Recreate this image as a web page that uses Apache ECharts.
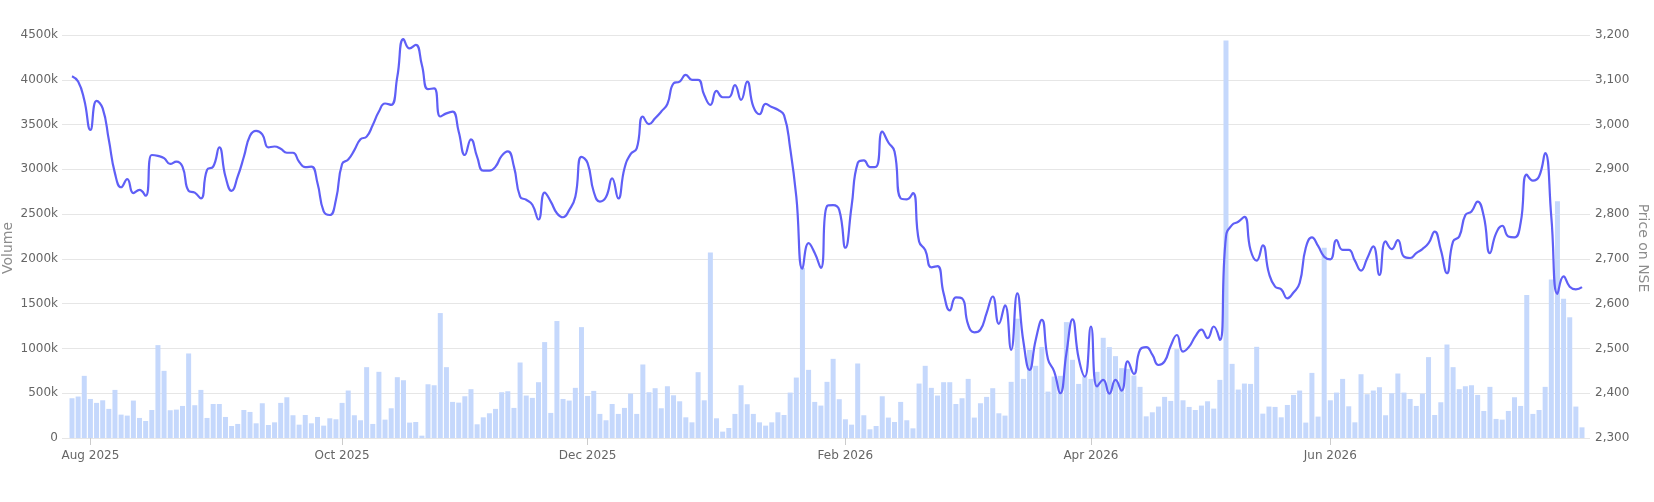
<!DOCTYPE html>
<html>
<head>
<meta charset="utf-8">
<script src="https://cdn.jsdelivr.net/npm/echarts@6/dist/echarts.min.js"></script>
<style>
  html, body { margin: 0; padding: 0; background: #ffffff; }
  #chart { width: 1654px; height: 502px; }
</style>
</head>
<body>
<div id="chart"></div>
<script>
// ---- data ----
const startDate = '2025-07-29';
const holidays = ['2025-08-15','2025-08-27','2025-10-02','2025-10-22','2025-11-05','2025-12-25',
  '2026-01-15','2026-01-26','2026-03-03','2026-03-26','2026-03-31','2026-04-03','2026-04-14',
  '2026-05-01','2026-05-28','2026-06-26'];
const specialSessions = ['2026-02-01'];
const monthNames = ['Jan','Feb','Mar','Apr','May','Jun','Jul','Aug','Sep','Oct','Nov','Dec'];

const volume = [
  444,463,694,436,392,421,325,537,261,250,418,224,190,313,1037,750,310,317,358,944,
  366,537,224,380,380,235,134,157,313,291,164,388,145,175,392,455,254,149,257,164,
  235,138,220,209,392,530,254,198,791,157,739,205,332,679,645,172,179,26,600,589,
  1395,791,403,395,466,545,153,231,276,325,511,522,336,843,474,448,623,1071,280,1306,
  436,418,560,1238,470,526,269,198,380,269,336,496,269,821,511,556,332,578,477,410,
  231,175,735,421,2071,220,71,112,269,589,377,269,175,138,175,287,257,507,675,1900,
  761,403,362,627,884,433,209,149,832,254,97,134,466,228,179,403,198,108,608,806,
  560,474,623,623,380,444,660,228,388,459,556,276,250,627,1332,660,985,806,1015,518,
  686,694,1294,873,604,686,660,739,1119,1015,914,780,772,698,571,242,287,351,459,414,
  992,421,347,313,362,410,328,649,4438,828,541,608,604,1018,272,351,347,231,369,481,
  530,172,727,239,2124,421,507,660,354,175,712,489,530,567,254,500,720,507,436,358,
  496,903,257,399,1044,791,545,578,589,481,302,571,213,205,302,455,358,1596,269,313,
  571,1771,2644,1554,1348,351,119
].map(v => v * 1000);

const price = [
  3108,3096,3055,2988,3053,3036,2966,2891,2860,2878,2847,2854,2841,2932,2930,2925,2912,2917,2906,2852,
  2848,2835,2899,2906,2949,2884,2852,2884,2928,2975,2986,2978,2949,2951,2946,2937,2937,2917,2905,2906,
  2869,2806,2798,2832,2912,2922,2943,2967,2973,2999,3029,3047,3044,3107,3191,3170,3178,3133,3079,3081,
  3018,3025,3029,2984,2932,2967,2928,2897,2897,2906,2930,2940,2906,2839,2832,2821,2788,2848,2828,2802,
  2793,2809,2839,2928,2914,2850,2828,2838,2880,2835,2902,2934,2947,3018,3001,3014,3029,3046,3092,3096,
  3111,3100,3100,3066,3044,3075,3061,3061,3088,3055,3096,3040,3023,3046,3039,3033,3021,2947,2839,2678,
  2735,2713,2680,2818,2820,2809,2725,2817,2914,2920,2905,2906,2984,2960,2940,2835,2833,2847,2739,2720,
  2681,2684,2623,2585,2614,2612,2553,2536,2542,2579,2616,2555,2596,2497,2623,2515,2452,2519,2564,2476,
  2449,2400,2489,2565,2478,2437,2549,2415,2430,2399,2430,2406,2471,2443,2497,2503,2486,2463,2471,2506,
  2530,2493,2504,2527,2542,2523,2549,2519,2750,2776,2783,2794,2720,2696,2730,2668,2638,2632,2612,2625,
  2646,2725,2748,2729,2705,2699,2742,2720,2720,2696,2674,2701,2728,2664,2739,2722,2742,2705,2702,2713,
  2722,2735,2761,2720,2668,2739,2750,2798,2806,2828,2795,2713,2757,2774,2750,2748,2780,2888,2875,2884,
  2936,2794,2622,2661,2638,2632,2637
];

// ---- trading-day categories ----
function buildDates(n) {
  const out = [];
  const d = new Date(startDate + 'T00:00:00Z');
  while (out.length < n) {
    const s = d.toISOString().slice(0, 10);
    const wd = d.getUTCDay();
    if ((wd !== 0 && wd !== 6 && holidays.indexOf(s) < 0) || specialSessions.indexOf(s) >= 0) out.push(s);
    d.setUTCDate(d.getUTCDate() + 1);
  }
  return out;
}
const dates = buildDates(volume.length);

// first trading day of every second month (Aug, Oct, Dec, Feb, Apr, Jun) gets a label
const labelIdx = {};
dates.forEach((s, i) => {
  const m = parseInt(s.slice(5, 7), 10) - 1;
  if (i > 0 && s.slice(5, 7) !== dates[i - 1].slice(5, 7) && m % 2 === 1) {
    labelIdx[i] = monthNames[m] + ' ' + s.slice(0, 4);
  }
});

const FONT = 'DejaVu Sans';
const gridTop = 35, gridBottom = 64;

const chart = echarts.init(document.getElementById('chart'), null, { renderer: 'canvas' });
chart.setOption({
  animation: false,
  backgroundColor: '#ffffff',
  textStyle: { fontFamily: FONT },
  grid: [
    { left: 62, right: 64, top: gridTop, bottom: gridBottom, containLabel: false, outerBoundsMode: 'none' },
    { left: 72, right: 72, top: gridTop, bottom: gridBottom, containLabel: false, outerBoundsMode: 'none' }
  ],
  xAxis: [
    { gridIndex: 0, type: 'category', data: dates, show: false },
    {
      gridIndex: 1, type: 'category', data: dates, boundaryGap: false,
      axisLine: { show: false },
      axisTick: { show: true, length: 7, lineStyle: { color: '#cccccc' },
        interval: (i) => labelIdx[i] !== undefined },
      axisLabel: { show: true, color: '#666666', fontSize: 12, fontFamily: FONT, margin: 12,
        interval: (i) => labelIdx[i] !== undefined,
        formatter: (v, i) => labelIdx[i] || '' },
      splitLine: { show: false }
    }
  ],
  yAxis: [
    {
      gridIndex: 0, type: 'value', position: 'left', min: 0, max: 4500000, interval: 500000,
      name: 'Volume', nameLocation: 'middle', nameGap: 47, nameRotate: 90, nameMoveOverlap: false,
      nameTextStyle: { color: '#8c8c8c', fontSize: 14, fontFamily: FONT, padding: [0, 23, 0, 0] },
      axisLine: { show: false }, axisTick: { show: false },
      axisLabel: { color: '#666666', fontSize: 12, fontFamily: FONT, margin: 4,
        formatter: (v) => v === 0 ? '0' : (v / 1000) + 'k' },
      splitLine: { show: true, lineStyle: { color: '#e6e6e6', width: 1 } }
    },
    {
      gridIndex: 0, type: 'value', position: 'right', min: 2300, max: 3200, interval: 100,
      name: 'Price on NSE', nameLocation: 'middle', nameGap: 46, nameRotate: -90, nameMoveOverlap: false,
      nameTextStyle: { color: '#8c8c8c', fontSize: 14, fontFamily: FONT, padding: [0, 0, 0, 23] },
      axisLine: { show: false }, axisTick: { show: false },
      axisLabel: { color: '#666666', fontSize: 12, fontFamily: FONT, margin: 5,
        formatter: (v) => v.toLocaleString('en-US') },
      splitLine: { show: false }
    },
    { gridIndex: 1, type: 'value', min: 0, max: 4500000, show: false, splitLine: { show: false } },
    { gridIndex: 1, type: 'value', min: 2300, max: 3200, show: false, splitLine: { show: false } }
  ],
  series: [
    {
      name: 'Volume', type: 'bar', xAxisIndex: 1, yAxisIndex: 2,
      data: volume, barWidth: 5, clip: true,
      itemStyle: { color: '#c5d8fc' }
    },
    {
      name: 'Price on NSE', type: 'line', xAxisIndex: 1, yAxisIndex: 3,
      data: price, smooth: 0.5, symbol: 'none', clip: false,
      lineStyle: { color: '#5f5ff6', width: 2.2 }
    }
  ]
});
</script>
</body>
</html>
